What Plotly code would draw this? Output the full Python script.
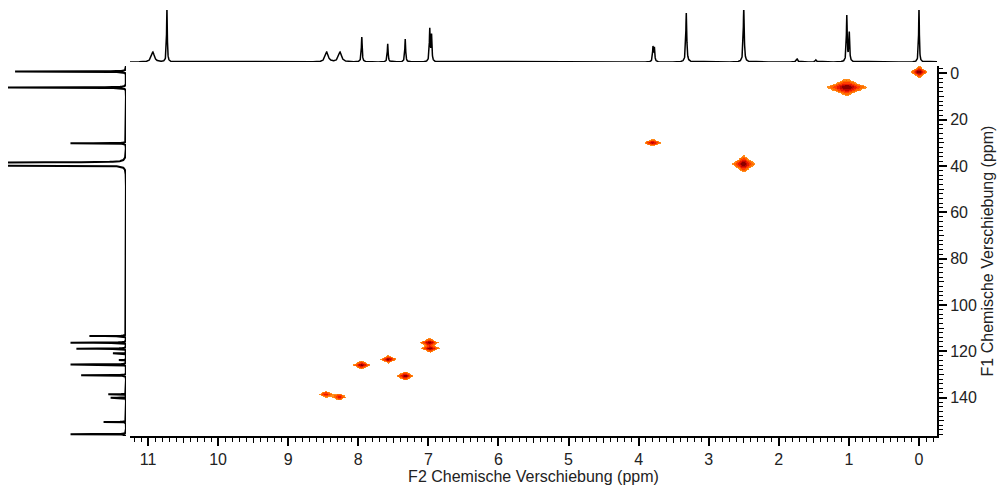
import numpy as np
import plotly.graph_objects as go

# ---------------- data ----------------
# 1H projection (F2, ppm) : shift, relative intensity, half width (ppm)
h_shift = [10.93, 10.73, 8.45, 8.26, 7.95, 7.58, 7.33, 6.98, 6.955, 3.795, 3.775, 3.32, 2.50, 1.74, 1.47, 1.03, 0.995, 0.0]
h_int   = [0.19, 1.05, 0.19, 0.19, 0.48, 0.35, 0.44, 0.62, 0.50, 0.28, 0.26, 0.94, 1.05, 0.06, 0.04, 0.88, 0.55, 1.05]
h_hw    = [0.025, 0.006, 0.025, 0.025, 0.007, 0.007, 0.007, 0.007, 0.007, 0.007, 0.007, 0.008, 0.008, 0.012, 0.012, 0.007, 0.007, 0.006]

# 13C projection (F1, ppm) : shift, relative intensity
c_shift = [-0.8, 6.1, 30.2,
           38.47, 38.68, 38.89, 39.1, 39.31, 39.52, 39.73,
           113.4, 116.3, 118.9, 120.9, 123.8, 125.7, 130.4, 138.6, 140.1, 150.5, 155.8]
c_int   = [0.94, 1.30, 0.47,
           1.2, 2.0, 3.0, 3.2, 3.0, 2.0, 1.2,
           0.31, 0.47, 0.42, 0.11, 0.06, 0.47, 0.38, 0.15, 0.13, 0.19, 0.47]

# HSQC cross peaks: F2 (1H), F1 (13C), amplitude, half extents of outer contour (ppm)
x_f2   = [0.0, 1.03, 3.80, 2.50, 8.46, 8.27, 7.95, 7.57, 7.33, 6.985, 6.97]
x_f1   = [-0.5, 6.0, 29.9, 39.1, 138.6, 139.7, 126.0, 123.5, 130.6, 116.3, 118.9]
x_amp  = [1.0, 1.0, 0.6, 1.0, 0.5, 0.45, 0.8, 0.8, 0.9, 0.85, 0.85]
x_hx   = [0.12, 0.29, 0.12, 0.167, 0.09, 0.09, 0.128, 0.11, 0.126, 0.128, 0.133]
x_hy   = [2.6, 3.6, 1.45, 3.6, 1.2, 1.3, 1.8, 1.65, 1.95, 1.8, 1.6]

f2_range = [11.257, -0.257]
f1_range = [156.6, -3.2]

levels = [0.12, 0.16, 0.24, 0.36, 0.52, 0.70]
level_colors = ['#ff8c1a', '#ff6a00', '#ff3c00', '#e81800', '#c00800', '#8a0000']

# ---------------- spectra ----------------
hx = np.union1d(np.arange(-0.3, 11.3, 0.002), np.array(h_shift))
hy = np.zeros_like(hx)
for s, a, w in zip(h_shift, h_int, h_hw):
    hy += a / (1 + ((hx - s) / w) ** 2)

cy = np.union1d(np.arange(-3.2, 156.7, 0.05), np.array(c_shift))
cx = np.zeros_like(cy)
for s, a in zip(c_shift, c_int):
    cx += a / (1 + ((cy - s) / 0.06) ** 2)

L0 = levels[0]
wx = [h / np.sqrt(a / L0 - 1) for h, a in zip(x_hx, x_amp)]
wy = [h / np.sqrt(a / L0 - 1) for h, a in zip(x_hy, x_amp)]


def intensity(X, Y):
    Z = np.zeros_like(X)
    for f2, f1, a, sx, sy in zip(x_f2, x_f1, x_amp, wx, wy):
        Z += a / ((1 + ((X - f2) / sx) ** 2) * (1 + ((Y - f1) / sy) ** 2))
    return np.minimum(Z, 1.0)


cs = [[0, 'rgba(255,255,255,0)'], [levels[0], 'rgba(255,255,255,0)']]
for i, col in enumerate(level_colors):
    lo = levels[i]
    hi = levels[i + 1] if i + 1 < len(levels) else 1.0
    cs.append([lo, col])
    cs.append([hi, col])

fig = go.Figure()

for f2, f1, hxw, hyw in zip(x_f2, x_f1, x_hx, x_hy):
    gx = np.arange(f2 - 1.4 * hxw, f2 + 1.4 * hxw, 0.008)
    gy = np.arange(f1 - 1.4 * hyw, f1 + 1.4 * hyw, 0.25)
    X, Y = np.meshgrid(gx, gy)
    Z = intensity(X, Y)
    fig.add_trace(go.Heatmap(x=gx, y=gy, z=Z, zmin=0, zmax=1, colorscale=cs,
                             showscale=False, zsmooth=False, hoverinfo='skip',
                             xaxis='x', yaxis='y'))

fig.add_trace(go.Scatter(x=hx, y=hy, mode='lines', line=dict(color='black', width=1.5),
                         xaxis='x2', yaxis='y2', hoverinfo='skip'))
fig.add_trace(go.Scatter(x=cx, y=cy, mode='lines', line=dict(color='black', width=2),
                         xaxis='x3', yaxis='y3', hoverinfo='skip'))
# carriers for medium-tick axes
fig.add_trace(go.Scatter(x=[], y=[], xaxis='x4', yaxis='y', hoverinfo='skip'))
fig.add_trace(go.Scatter(x=[], y=[], xaxis='x', yaxis='y4', hoverinfo='skip'))

font = dict(family='Liberation Sans, Arial, sans-serif', size=16, color='#222')

# the page body adds an 8 px offset; figure is sized to fit the window
W, H, OFF = 1000, 485, 8


def xd(px):
    return (px - OFF) / W


def yd(py):
    return (H - (py - OFF)) / H


xdom = [xd(130), xd(937)]
ydom = [yd(436), yd(66)]

fig.update_layout(
    width=W, height=H, margin=dict(l=0, r=0, t=0, b=0),
    paper_bgcolor='white', plot_bgcolor='rgba(0,0,0,0)', showlegend=False,
    font=font,
    xaxis=dict(domain=xdom, range=f2_range, anchor='y', showline=True, linecolor='black',
               linewidth=2, ticks='outside', ticklen=8, tickwidth=2, tickcolor='black',
               tick0=0, dtick=1, showgrid=False, zeroline=False, automargin=False,
               minor=dict(dtick=0.1, tick0=0, ticks='outside', ticklen=4, tickwidth=1,
                          tickcolor='black', showgrid=False),
               title=dict(text='F2 Chemische Verschiebung (ppm)', standoff=2, font=font),
               tickfont=font),
    yaxis=dict(domain=ydom, range=f1_range, anchor='x', side='right', showline=True,
               linecolor='black', linewidth=2, ticks='outside', ticklen=8, tickwidth=2,
               tickcolor='black', tick0=0, dtick=20, showgrid=False, zeroline=False,
               automargin=False,
               minor=dict(dtick=2, tick0=0, ticks='outside', ticklen=4, tickwidth=1,
                          tickcolor='black', showgrid=False),
               title=dict(text='F1 Chemische Verschiebung (ppm)', standoff=6, font=font),
               tickfont=font),
    xaxis4=dict(overlaying='x', anchor='y', side='bottom', range=f2_range,
                tickvals=[i + 0.5 for i in range(0, 11)], ticks='outside', ticklen=6,
                tickwidth=1, tickcolor='black', showticklabels=False, showline=False,
                showgrid=False, zeroline=False, automargin=False),
    yaxis4=dict(overlaying='y', anchor='x', side='right', range=f1_range,
                tickvals=[10 + 20 * i for i in range(8)], ticks='outside', ticklen=6,
                tickwidth=1, tickcolor='black', showticklabels=False, showline=False,
                showgrid=False, zeroline=False, automargin=False),
    xaxis2=dict(domain=xdom, matches='x', anchor='y2', visible=False),
    yaxis2=dict(domain=[yd(62), yd(10)], range=[0, 1], anchor='x2', visible=False),
    xaxis3=dict(domain=[xd(8), xd(126)], range=[1, 0], anchor='y3', visible=False),
    yaxis3=dict(domain=ydom, matches='y', anchor='x3', visible=False),
)

fig.write_html('out.html')
